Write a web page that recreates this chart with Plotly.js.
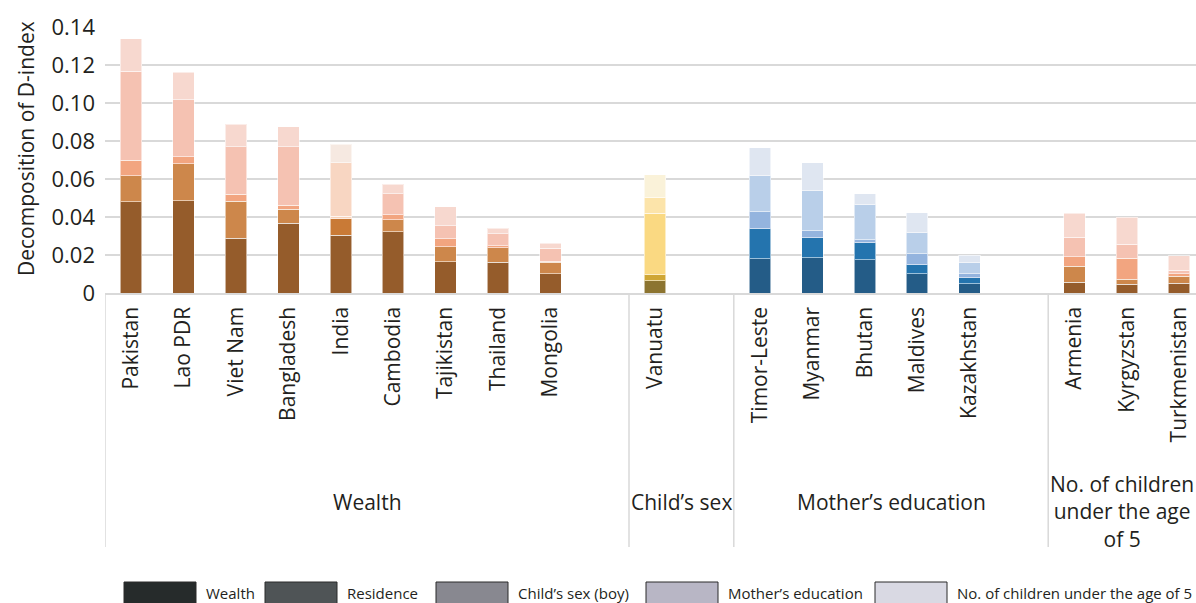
<!DOCTYPE html>
<html>
<head>
<meta charset="utf-8">
<script src="https://cdn.plot.ly/plotly-3.0.1.min.js"></script>
<style>html,body{margin:0;padding:0;background:#fff;}#chart{width:1196px;height:603px;}</style>
</head>
<body>
<div id="chart"></div>
<script>
// ---------- DATA ----------
const countries = ['Pakistan','Lao PDR','Viet Nam','Bangladesh','India','Cambodia','Tajikistan','Thailand','Mongolia',
  'Vanuatu',
  'Timor-Leste','Myanmar','Bhutan','Maldives','Kazakhstan',
  'Armenia','Kyrgyzstan','Turkmenistan'];
const groupNames = ['Wealth','Child’s sex','Mother’s education','No. of children<br>under the age<br>of 5'];
const groupSizes = [9, 1, 5, 3];
const components = ['Wealth','Residence','Child’s sex (boy)','Mother’s education','No. of children under the age of 5'];

const wealth    = [0.0480,0.0486,0.0288,0.0367,0.0305,0.0323,0.0165,0.0161,0.0102, 0.0065, 0.0180,0.0186,0.0175,0.0102,0.0049, 0.0056,0.0047,0.0051];
const residence = [0.0136,0.0194,0.0196,0.0073,0.0086,0.0063,0.0079,0.0078,0.0061, 0.0031, 0.0158,0.0105,0.0090,0.0047,0.0032, 0.0084,0.0025,0.0037];
const childSex  = [0.0084,0.0037,0.0035,0.0023,0.0014,0.0026,0.0042,0.0010,0.0003, 0.0323, 0.0090,0.0037,0.0015,0.0058,0.0021, 0.0051,0.0110,0.0014];
const motherEdu = [0.0468,0.0299,0.0251,0.0307,0.0281,0.0111,0.0068,0.0063,0.0070, 0.0084, 0.0189,0.0210,0.0185,0.0110,0.0058, 0.0102,0.0074,0.0017];
const children  = [0.0169,0.0146,0.0119,0.0104,0.0098,0.0049,0.0099,0.0028,0.0025, 0.0120, 0.0148,0.0148,0.0058,0.0106,0.0040, 0.0126,0.0142,0.0076];
const series = [wealth, residence, childSex, motherEdu, children];

const yTickVals = [0,0.02,0.04,0.06,0.08,0.10,0.12,0.14];
const yTickText = ['0','0.02','0.04','0.06','0.08','0.10','0.12','0.14'];

// ---------- STYLE ----------
const palettes = {
  brown: ['#955C2B','#CD874B','#F2A580','#F5C2B2','#F7D8CF'],
  peach: ['#955C2B','#C97A36','#F8D2BA','#F8D6C2','#F6E9E1'],
  gold:  ['#8C7430','#CFA634','#FAD982','#FCE4AA','#FAF2D9'],
  blue:  ['#245C87','#2474AE','#94B4DE','#B9CFE9','#DFE6F1']
};
const countryPalette = ['brown','brown','brown','brown','peach','brown','brown','brown','brown',
  'gold','blue','blue','blue','blue','blue','brown','brown','brown'];
const legendColors = ['#262B2B','#4F5456','#888890','#B8B6C5','#D9D9E3'];
const legendBoxX = [124, 265, 436, 646, 875];   // pixel left edges
const FONT = 'Open Sans, Noto Sans, sans-serif';
const TXT = '#231F20';

const L = 105, R = 0, T = 27, B = 310, W = 1196, H = 603;
const plotW = W - L - R, plotH = H - T - B;
const px2x = p => (p - L) / plotW;
const py2y = p => (H - B - p) / plotH;

// ---------- POSITIONS ----------
const pos = [], bounds = [-0.5];
let slot = 0;
groupSizes.forEach((n, gi) => {
  for (let i = 0; i < n; i++) pos.push(slot++);
  if (gi < groupSizes.length - 1) slot++;
  bounds.push(slot - 0.5);
});
const xMax = -0.5 + plotW / 52.4;

// ---------- TRACES ----------
const traces = series.map((vals, k) => ({
  type: 'bar',
  name: components[k],
  x: pos,
  y: vals,
  width: 0.41,
  marker: {
    color: countries.map((c, i) => palettes[countryPalette[i]][k]),
    line: {color: 'rgba(255,255,255,0.55)', width: 1}
  },
  showlegend: false,
  hoverinfo: 'x+y'
}));

// ---------- SHAPES / ANNOTATIONS ----------
const shapes = [];
const annotations = [];
bounds.slice(0, -1).forEach(b => {
  shapes.push({type:'line', xref:'x', yref:'paper', x0:b, x1:b, y0:0, y1:py2y(547),
    line:{color:'#D9D9D9', width:1.5}});
});
groupNames.forEach((g, gi) => {
  const x0 = bounds[gi], x1 = Math.min(bounds[gi+1], xMax);
  annotations.push({xref:'x', yref:'paper', x:(x0+x1)/2, y:py2y(gi === 3 ? 511 : 502),
    text:g, showarrow:false, xanchor:'center', yanchor:'middle',
    font:{family:FONT, size:21, color:TXT}});
});
annotations.push({xref:'paper', yref:'paper', x:px2x(26), y:py2y(149), text:'Decomposition of D-index',
  textangle:-90, showarrow:false, xanchor:'center', yanchor:'middle',
  font:{family:FONT, size:21, color:TXT}});
components.forEach((c, i) => {
  shapes.push({type:'rect', xref:'paper', yref:'paper', x0:px2x(legendBoxX[i]), x1:px2x(legendBoxX[i]+72),
    y0:py2y(582), y1:py2y(606), fillcolor:legendColors[i], line:{color:'#2a2a2a', width:1}});
  annotations.push({xref:'paper', yref:'paper', x:px2x(legendBoxX[i]+80), y:py2y(593), text:c,
    showarrow:false, xanchor:'left', yanchor:'middle', font:{family:FONT, size:15, color:TXT}});
});

const layout = {
  width: W, height: H,
  margin: {l:L, r:R, t:T, b:B, pad:0},
  paper_bgcolor: '#fff', plot_bgcolor: '#fff',
  barmode: 'stack',
  bargap: 0,
  font: {family: FONT, color: TXT},
  xaxis: {
    range: [-0.5, xMax], tickmode: 'array', tickvals: pos, ticktext: countries,
    tickangle: -90, ticks: '', showgrid: false, zeroline: false,
    showline: true, linecolor: '#D9D9D9', linewidth: 1.5,
    tickfont: {family: FONT, size: 21, color: TXT}, ticklabelstandoff: 4, fixedrange: true
  },
  yaxis: {
    range: [0, 0.14], tickmode: 'array', tickvals: yTickVals, ticktext: yTickText,
    ticks: '', showgrid: true, gridcolor: '#D9D9D9', gridwidth: 1.5, zeroline: false,
    showline: false, tickfont: {family: FONT, size: 22, color: TXT}, ticklabelstandoff: 9, fixedrange: true
  },
  shapes: shapes,
  annotations: annotations
};

Plotly.newPlot('chart', traces, layout, {displayModeBar: false, staticPlot: true});
</script>
</body>
</html>
